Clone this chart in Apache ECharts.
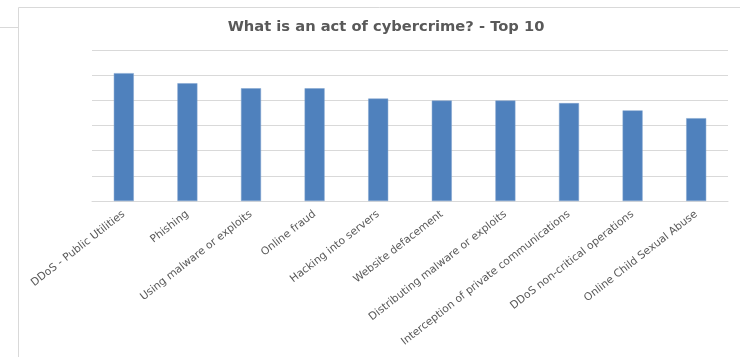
<!DOCTYPE html>
<html>
<head>
<meta charset="utf-8">
<script src="https://cdn.jsdelivr.net/npm/echarts@6/dist/echarts.min.js"></script>
<style>
  html, body { margin: 0; padding: 0; background: #fff; }
  #main { width: 740px; height: 357px; }
</style>
</head>
<body>
<div id="main"></div>
<script>
// categories and values (in gridline units)
var categories = [
  'DDoS - Public Utilities',
  'Phishing',
  'Using malware or exploits',
  'Online fraud',
  'Hacking into servers',
  'Website defacement',
  'Distributing malware or exploits',
  'Interception of private communications',
  'DDoS non-critical operations',
  'Online Child Sexual Abuse'
];
var values = [5.08, 4.68, 4.48, 4.48, 4.07, 3.99, 3.99, 3.89, 3.6, 3.29];

var myChart = echarts.init(document.getElementById('main'));
myChart.setOption({
  animation: false,
  title: {
    text: 'What is an act of cybercrime? - Top 10',
    left: 381,
    top: 15,
    textAlign: 'center',
    textStyle: { color: '#595959', fontFamily: 'DejaVu Sans', fontSize: 14.7, fontWeight: 'bold' }
  },
  graphic: [
    // chart frame edges
    { type: 'line', shape: { x1: 18.5, y1: 7.5, x2: 740, y2: 7.5 }, style: { stroke: '#d9d9d9', lineWidth: 1 } },
    { type: 'line', shape: { x1: 18.5, y1: 7.5, x2: 18.5, y2: 357 }, style: { stroke: '#d9d9d9', lineWidth: 1 } },
    { type: 'line', shape: { x1: 0, y1: 27.5, x2: 18, y2: 27.5 }, style: { stroke: '#d9d9d9', lineWidth: 1 } }
  ],
  grid: { left: 92, right: 12, top: 50, bottom: 156, outerBoundsMode: 'none', containLabel: false },
  xAxis: {
    type: 'category',
    data: categories,
    axisTick: { show: false },
    axisLine: { lineStyle: { color: '#d9d9d9', width: 1 } },
    axisLabel: {
      rotate: 38,
      interval: 0,
      margin: 12,
      color: '#595959',
      fontFamily: 'DejaVu Sans',
      fontSize: 10.7
    }
  },
  yAxis: {
    type: 'value',
    min: 0,
    max: 6,
    interval: 1,
    axisLabel: { show: false },
    axisLine: { show: false },
    axisTick: { show: false },
    splitLine: { lineStyle: { color: '#d9d9d9', width: 1 } }
  },
  series: [{
    type: 'bar',
    data: values,
    barWidth: 20,
    itemStyle: { color: '#4f81bd', borderColor: '#7fa3cf', borderWidth: 0.5 }
  }]
});
</script>
</body>
</html>
